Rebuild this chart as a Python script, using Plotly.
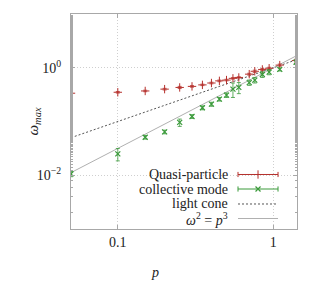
import math
import numpy as np
import plotly.graph_objects as go

# ---- data ----
p_vals = [0.05, 0.1, 0.15, 0.2, 0.25, 0.3, 0.35, 0.4, 0.45, 0.5, 0.55, 0.6, 0.7, 0.76, 0.85, 0.94, 1.1, 1.4]
qp_omega = [0.336, 0.35, 0.37, 0.40, 0.43, 0.45, 0.48, 0.52, 0.57, 0.59, 0.635, 0.66, 0.76, 0.86, 0.93, 0.98, 1.12, 1.36]
qp_err = [0.012, 0.012, 0.012, 0.014, 0.02, 0.015, 0.015, 0.018, 0.02, 0.02, 0.02, 0.02, 0.03, 0.04, 0.04, 0.04, 0.05, 0.08]
cm_omega = [0.0106, 0.025, 0.051, 0.064, 0.096, 0.124, 0.18, 0.21, 0.26, 0.31, 0.40, 0.43, 0.53, 0.59, 0.75, 0.83, 0.93, 1.27]
cm_err = [0.0012, 0.0065, 0.004, 0.005, 0.015, 0.01, 0.015, 0.018, 0.02, 0.03, 0.12, 0.1, 0.06, 0.07, 0.09, 0.09, 0.06, 0.12]
line_p = [0.05, 1.42]

x_range = [0.05, 1.42]
y_range = [1e-3, 10.0]
x_ticks = [0.1, 1]
x_ticklabels = ["0.1", "1"]
y_ticks = [1, 0.01]
y_ticklabels = ["10<sup>0</sup>", "10<sup>\u22122</sup>"]

legend_labels = ["Quasi-particle", "collective mode", "light cone", "<i>\u03c9</i><sup>2</sup> = <i>p</i><sup>3</sup>"]

RED = "#b5302c"
GREEN = "#3a9a3a"
FONT = "Liberation Serif, Times New Roman, serif"
FRAME = "#a8a8a8"

lp = np.array(line_p)

fig = go.Figure()
fig.add_trace(go.Scatter(x=lp, y=lp, mode="lines", line=dict(color="#555555", width=1, dash="2px,2px"), showlegend=False))
fig.add_trace(go.Scatter(x=lp, y=lp ** 1.5, mode="lines", line=dict(color="#b0b0b0", width=1), showlegend=False))
fig.add_trace(go.Scatter(x=p_vals, y=qp_omega, mode="markers",
                         marker=dict(symbol="cross-thin", size=6, line=dict(color=RED, width=1)),
                         error_y=dict(type="data", array=qp_err, color=RED, thickness=0.8, width=2),
                         showlegend=False))
fig.add_trace(go.Scatter(x=p_vals, y=cm_omega, mode="markers",
                         marker=dict(symbol="x-thin", size=5, line=dict(color=GREEN, width=1.2)),
                         error_y=dict(type="data", array=cm_err, color=GREEN, thickness=0.8, width=2),
                         showlegend=False))

# ---- custom legend (text left, sample right), opaque box over the grid ----
rows = [0.2535, 0.186, 0.1163, 0.0488]
x0, x1, xt = 0.739, 0.916, 0.704
annotations = []
shapes = [dict(type="rect", xref="paper", yref="paper", x0=0.13, x1=0.955, y0=0.0, y1=0.30,
               fillcolor="white", line=dict(width=0), layer="between")]
for lab, yy in zip(legend_labels, rows):
    annotations.append(dict(x=xt, y=yy, xref="paper", yref="paper", text=lab, showarrow=False,
                            xanchor="right", yanchor="middle", font=dict(family=FONT, size=14, color="#222")))
styles = [dict(color=RED, width=1), dict(color=GREEN, width=1),
          dict(color="#555555", width=1, dash="2px,2px"), dict(color="#b0b0b0", width=1)]
for i, (st, yy) in enumerate(zip(styles, rows)):
    shapes.append(dict(type="line", xref="paper", yref="paper", x0=x0, x1=x1, y0=yy, y1=yy, line=st))
    if i < 2:
        for xx in (x0, x1):
            shapes.append(dict(type="line", xref="paper", yref="paper", x0=xx, x1=xx,
                               y0=yy - 0.012, y1=yy + 0.012, line=dict(color=st["color"], width=1)))
fig.add_trace(go.Scatter(x=[(x0 + x1) / 2], y=[rows[0]], xaxis="x2", yaxis="y2", mode="markers",
                         marker=dict(symbol="cross-thin", size=6, line=dict(color=RED, width=1)), showlegend=False))
fig.add_trace(go.Scatter(x=[(x0 + x1) / 2], y=[rows[1]], xaxis="x2", yaxis="y2", mode="markers",
                         marker=dict(symbol="x-thin", size=5, line=dict(color=GREEN, width=1.2)), showlegend=False))

# axis titles placed as in the reference
annotations.append(dict(x=0.372, y=-0.203, xref="paper", yref="paper", text="<i>p</i>", showarrow=False,
                        xanchor="center", yanchor="middle", font=dict(family=FONT, size=14, color="#222")))
annotations.append(dict(x=-0.168, y=0.5, xref="paper", yref="paper", text="<i>\u03c9<sub>max</sub></i>",
                        showarrow=False, textangle=-90, xanchor="center", yanchor="middle",
                        font=dict(family=FONT, size=15, color="#222")))

fig.update_layout(
    width=323, height=284,
    margin=dict(l=71, r=26, t=14, b=55, autoexpand=False),
    paper_bgcolor="white", plot_bgcolor="white",
    font=dict(family=FONT, size=14, color="#222"),
    showlegend=False,
    hovermode=False,
    annotations=annotations, shapes=shapes,
    xaxis=dict(type="log", autorange=False, range=[math.log10(x_range[0]), math.log10(x_range[1])],
               tickvals=x_ticks, ticktext=x_ticklabels,
               showgrid=True, gridcolor="#cfcfcf", griddash="1px,2px", gridwidth=1,
               showline=True, linecolor=FRAME, linewidth=1, mirror="ticks",
               ticks="inside", ticklen=4, tickcolor=FRAME, zeroline=False, automargin=False),
    yaxis=dict(type="log", autorange=False, range=[math.log10(y_range[0]), math.log10(y_range[1])],
               tickvals=y_ticks, ticktext=y_ticklabels,
               showgrid=True, gridcolor="#cfcfcf", griddash="1px,2px", gridwidth=1,
               showline=True, linecolor=FRAME, linewidth=1, mirror="ticks",
               ticks="inside", ticklen=4, tickcolor=FRAME, zeroline=False, automargin=False,
               ticklabelstandoff=6,
               minor=dict(ticks="inside", ticklen=2, tickcolor=FRAME, showgrid=False)),
    xaxis2=dict(range=[0, 1], overlaying="x", visible=False),
    yaxis2=dict(range=[0, 1], overlaying="y", visible=False),
)

fig.write_html("out.html", config={"displayModeBar": False, "staticPlot": True},
               post_script="document.body.style.margin='0px';")
